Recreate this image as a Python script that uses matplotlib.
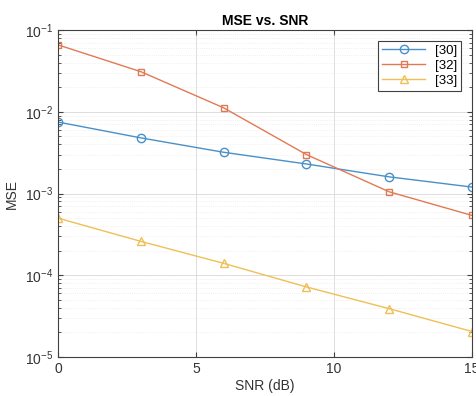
import matplotlib.pyplot as plt
from matplotlib.ticker import LogLocator, NullFormatter

plt.rcParams['font.family'] = ['Liberation Sans', 'DejaVu Sans']

snr = [0, 3, 6, 9, 12, 15]
mse_30 = [0.0075, 0.0048, 0.0032, 0.0023, 0.0016, 0.0012]
mse_32 = [0.066, 0.031, 0.0112, 0.0030, 0.00105, 0.00054]
mse_33 = [0.0005, 0.00026, 0.00014, 0.000072, 0.000039, 0.0000205]
labels = ['[30]', '[32]', '[33]']

fig = plt.figure(figsize=(4.77, 3.96), dpi=100)
ax = fig.add_axes([0.1216, 0.0985, 0.8679, 0.8255])

ax.semilogy(snr, mse_30, '-o', color='#4a90c8', lw=1.0, ms=6, mfc='none', mew=1.0, label=labels[0])
ax.semilogy(snr, mse_32, '-s', color='#e07a55', lw=1.0, ms=5, mfc='none', mew=1.0, label=labels[1])
ax.semilogy(snr, mse_33, '-^', color='#eec055', lw=1.0, ms=6, mfc='none', mew=1.0, label=labels[2])

ax.set_xlim(0, 15)
ax.set_ylim(1e-5, 1e-1)
ax.set_xticks([0, 5, 10, 15])
ax.yaxis.set_major_locator(LogLocator(base=10, numticks=10))
ax.yaxis.set_minor_locator(LogLocator(base=10, subs=range(2, 10), numticks=20))
ax.yaxis.set_minor_formatter(NullFormatter())

ax.grid(True, which='major', color='#d8d8d8', lw=0.6)
ax.grid(True, which='minor', axis='y', color='#e6e6e6', lw=0.5, ls=':')
ax.tick_params(which='both', direction='in', top=True, right=True, colors='#404040',
               labelsize=10, labelcolor='#333333')
for s in ax.spines.values():
    s.set_color('#404040')
    s.set_linewidth(0.8)

ax.set_title('MSE vs. SNR', fontsize=10, fontweight='bold', pad=4)
ax.set_xlabel('SNR (dB)', fontsize=10, color='#333333', labelpad=2)
ax.set_ylabel('MSE', fontsize=10, color='#333333', labelpad=4)

leg = ax.legend(loc='upper right', fontsize=9.5, fancybox=False, framealpha=1,
                edgecolor='#404040', handlelength=3.2, borderpad=0.3, labelspacing=0.2,
                borderaxespad=0.8)
leg.get_frame().set_linewidth(0.8)

fig.savefig('out.png', dpi=100)
